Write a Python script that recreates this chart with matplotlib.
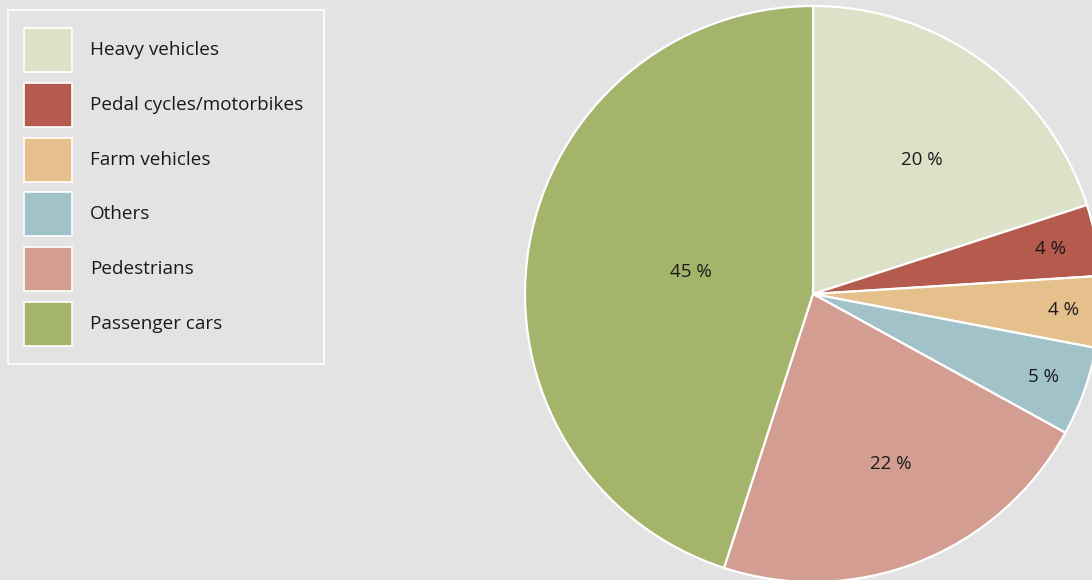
import matplotlib
matplotlib.use("Agg")
import matplotlib.pyplot as plt
from matplotlib.patches import Rectangle
import numpy as np

categories = ["Heavy vehicles", "Pedal cycles/motorbikes", "Farm vehicles",
              "Others", "Pedestrians", "Passenger cars"]
shares = [20, 4, 4, 5, 22, 45]
colors = ["#dde1c8", "#b55b4e", "#e5c08d", "#a2c2c9", "#d49d91", "#a5b46b"]
# percentage label placement: fraction of radius, and nudge (deg) off the wedge middle
label_dist = [0.60, 0.84, 0.87, 0.85, 0.65, 0.43]
label_turn = [-3, 0, 0, 0, 3, -1]

BG = "#e3e3e3"
W, H = 1092, 580
cx, cy, R = 813, 294, 288

plt.rcParams["font.family"] = ["Open Sans", "DejaVu Sans"]
fig = plt.figure(figsize=(W / 100, H / 100), dpi=100, facecolor=BG)
ax = fig.add_axes([(cx - R) / W, (H - cy - R) / H, 2 * R / W, 2 * R / H])
ax.set_facecolor(BG)

wedges, _ = ax.pie(shares, colors=colors, startangle=90, counterclock=False,
                   radius=1, wedgeprops=dict(edgecolor="white", linewidth=1.6))
ax.set_xlim(-1, 1); ax.set_ylim(-1, 1)
ax.axis("off")

for w, v, d, t in zip(wedges, shares, label_dist, label_turn):
    a = np.deg2rad((w.theta1 + w.theta2) / 2 + t)
    ax.text(d * np.cos(a), d * np.sin(a), f"{v} %", ha="center", va="center",
            fontsize=13.5, color="#1a1a1a")

# legend box, laid out in pixel units (y down)
lg = fig.add_axes([0, 0, 1, 1], zorder=3)
lg.set_xlim(0, W); lg.set_ylim(H, 0)
lg.axis("off")
lg.add_patch(Rectangle((8, 10), 316, 354, facecolor="none",
                       edgecolor="white", linewidth=1.2))
pitch = 54.8
for i, (lab, col) in enumerate(zip(categories, colors)):
    y0 = 28 + i * pitch
    lg.add_patch(Rectangle((24, y0), 48, 44, facecolor=col,
                           edgecolor="white", linewidth=1.2))
    lg.text(90, y0 + 22, lab, ha="left", va="center", fontsize=13.6,
            color="#1a1a1a")

fig.savefig("out.png", dpi=100, facecolor=BG)
